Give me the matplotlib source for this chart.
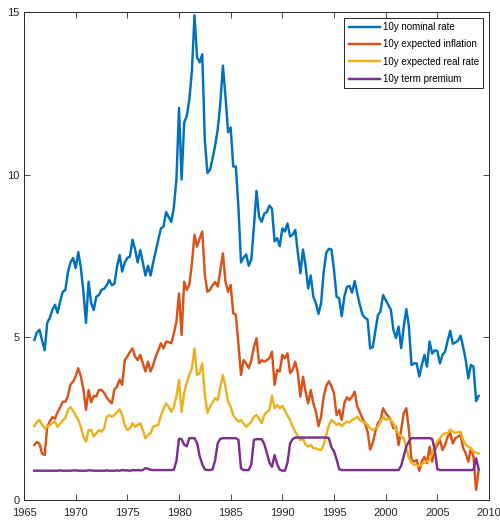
import matplotlib
matplotlib.use('Agg')
import matplotlib.pyplot as plt
import numpy as np

# quarterly observations, 1966Q1 .. 2009Q1
start_year = 1966
nominal = [4.92, 5.15, 5.23, 4.9,   4.6, 5.45, 5.6, 5.85,   6.0, 5.75, 6.1, 6.4,
           6.45, 7.0, 7.3, 7.44,    7.13, 7.62, 7.15, 6.4,  5.44, 6.71, 6.05, 5.84,
           6.25, 6.3, 6.46, 6.49,   6.6, 6.76, 6.6, 6.65,   7.17, 7.53, 7.02, 7.3,
           7.44, 7.48, 8.0, 7.7,    7.3, 7.68, 7.3, 6.9,    7.2, 6.9, 7.3, 7.65,
           8.0, 8.35, 8.4, 8.85,    8.7, 8.55, 9.0, 9.85,   12.05, 9.85, 11.6, 11.8,
           12.3, 13.2, 14.9, 13.6,  13.45, 13.7, 11.05, 10.05, 10.15, 10.5, 10.9, 11.4,
           12.2, 13.35, 12.4, 11.3, 11.45, 10.25, 10.25, 9.0, 7.3, 7.45, 7.55, 7.2,
           7.4, 8.4, 9.5, 8.7,      8.55, 8.8, 8.85, 9.05,  8.95, 7.95, 8.05, 7.8,
           8.35, 8.25, 8.5, 8.1,    8.15, 8.3, 7.6, 6.97,   7.7, 7.2, 6.5, 6.9,
           6.25, 6.05, 5.72, 6.05,  7.0, 7.6, 7.72, 7.7,    7.07, 6.25, 6.2, 5.65,
           6.25, 6.55, 6.58, 6.37,  6.73, 6.35, 6.0, 5.7,   5.6, 5.55, 4.66, 4.7,
           5.2, 5.68, 5.8, 6.3,     6.15, 6.0, 5.85, 5.23,  4.98, 5.33, 4.67, 5.33,
           5.87, 5.33, 4.15, 4.2,   4.2, 3.8, 4.15, 4.46,   4.1, 4.87, 4.5, 4.6,
           4.58, 4.2, 4.46, 4.56,   4.9, 5.2, 4.8, 4.84,    4.9, 5.05, 4.7, 4.3,
           3.74, 4.15, 4.1, 3.04,   3.2]
exp_infl = [1.69, 1.79, 1.72, 1.43, 1.38, 2.25, 2.42, 2.55, 2.5, 2.7, 2.85, 3.02,
            3.02, 3.2, 3.55, 3.64,  3.8, 4.05, 3.8, 3.4,    2.77, 3.38, 3.0, 3.2,
            3.18, 3.38, 3.38, 3.3,  3.15, 3.05, 2.97, 3.4,  3.48, 3.7, 3.54, 4.3,
            4.41, 4.55, 4.66, 4.41, 4.3, 4.46, 4.2, 3.95,   4.25, 3.95, 4.15, 4.41,
            4.6, 4.82, 4.66, 4.87,  4.85, 4.82, 5.12, 5.48, 6.35, 5.07, 6.71, 6.46,
            6.61, 7.28, 8.15, 7.79, 8.04, 8.25, 6.92, 6.4,  6.46, 6.6, 6.7, 6.56,
            7.07, 7.58, 6.71, 6.4,  6.61, 5.74, 5.69, 4.8,  3.84, 4.3, 4.2, 4.05,
            4.3, 4.7, 4.97, 4.2,    4.3, 4.25, 4.3, 4.36,   4.56, 3.54, 4.0, 3.95,
            4.46, 4.36, 4.51, 3.9,  4.0, 4.25, 3.9, 3.18,   3.79, 3.33, 2.97, 3.38,
            2.97, 2.71, 2.27, 2.56, 3.18, 3.5, 3.65, 3.5,   3.28, 2.61, 2.77, 2.46,
            2.97, 3.16, 3.07, 3.18, 3.33, 2.87, 2.7, 2.51,  2.36, 2.1, 1.55, 1.75,
            2.1, 2.36, 2.46, 2.82,  2.67, 2.58, 2.45, 2.2,  2.25, 1.69, 2.15, 2.67,
            2.82, 2.15, 1.23, 1.18, 1.23, 0.9, 1.18, 1.33,  1.13, 1.64, 1.18, 1.54,
            1.69, 1.84, 1.54, 1.69, 1.95, 2.05, 1.74, 1.9,  1.95, 2.0, 1.6, 1.43,
            1.18, 1.59, 1.33, 0.31, 0.92]
exp_real = [2.27, 2.4, 2.46, 2.31,  2.2, 2.25, 2.31, 2.36,  2.41, 2.25, 2.35, 2.45,
            2.51, 2.77, 2.85, 2.75, 2.6, 2.46, 2.25, 1.95,  1.79, 2.15, 2.15, 1.95,
            2.05, 2.15, 2.1, 2.2,   2.55, 2.61, 2.56, 2.61, 2.7, 2.79, 2.61, 2.3,
            2.15, 2.2, 2.36, 2.25,  2.31, 2.36, 2.15, 1.9,  2.0, 2.05, 2.25, 2.28,
            2.31, 2.6, 2.8, 2.97,   2.87, 2.71, 2.87, 3.18, 3.69, 2.71, 3.3, 3.6,
            3.85, 4.05, 4.66, 3.84, 3.9, 4.2, 3.23, 2.68,   2.87, 3.0, 3.13, 3.07,
            3.48, 3.84, 3.48, 3.02, 2.87, 2.6, 2.5, 2.41,   2.46, 2.35, 2.25, 2.33,
            2.4, 2.56, 2.61, 2.5,   2.36, 2.61, 2.7, 2.77,  3.2, 2.82, 2.92, 2.82,
            2.89, 2.75, 2.6, 2.46,  2.25, 2.1, 1.95, 1.84,  1.9, 1.7, 1.64, 1.69,
            1.59, 1.59, 1.55, 1.54, 1.69, 2.0, 2.3, 2.46,   2.4, 2.31, 2.36, 2.27,
            2.35, 2.41, 2.38, 2.46, 2.5, 2.56, 2.45, 2.41,  2.36, 2.31, 2.2, 2.15,
            2.2, 2.25, 2.41, 2.56,  2.46, 2.51, 2.45, 2.36, 2.15, 2.05, 1.95, 1.9,
            1.59, 1.3, 1.15, 1.08,  1.08, 1.05, 1.1, 1.15,  1.18, 1.23, 1.43, 1.65,
            1.8, 1.9, 2.0, 2.05,    2.05, 2.17, 2.1, 2.07,  2.08, 2.1, 1.84, 1.7,
            1.64, 1.59, 1.49, 1.45, 1.43]
term_prem = [0.9, 0.9, 0.9, 0.9,    0.9, 0.9, 0.9, 0.9,     0.9, 0.9, 0.91, 0.9,
             0.9, 0.9, 0.9, 0.91,   0.91, 0.9, 0.9, 0.9,    0.9, 0.91, 0.91, 0.9,
             0.9, 0.9, 0.9, 0.9,    0.91, 0.9, 0.9, 0.9,    0.91, 0.9, 0.92, 0.91,
             0.91, 0.9, 0.92, 0.91, 0.92, 0.91, 0.92, 0.98,  0.96, 0.93, 0.92, 0.92,
             0.92, 0.92, 0.92, 0.92, 0.92, 0.92, 0.93, 1.2,  1.88, 1.87, 1.7, 1.65,
             1.9, 1.9, 1.9, 1.75,   1.35, 1.1, 0.94, 0.92,  0.92, 0.94, 1.23, 1.75,
             1.88, 1.9, 1.9, 1.9,   1.9, 1.9, 1.9, 1.85,    0.97, 0.92, 0.92, 0.92,
             1.1, 1.85, 1.87, 1.87, 1.87, 1.72, 1.45, 1.15,  1.02, 1.38, 1.1, 0.93,
             0.9, 0.9, 1.15, 1.74,  1.87, 1.92, 1.92, 1.92,  1.92, 1.92, 1.92, 1.92,
             1.92, 1.92, 1.92, 1.92, 1.92, 1.92, 1.9, 1.62,  1.5, 1.25, 0.95, 0.92,
             0.92, 0.92, 0.92, 0.92, 0.92, 0.92, 0.92, 0.92,  0.92, 0.92, 0.92, 0.92,
             0.92, 0.92, 0.92, 0.92, 0.92, 0.92, 0.92, 0.92,  0.92, 0.92, 1.05, 1.35,
             1.65, 1.8, 1.9, 1.9,   1.9, 1.9, 1.9, 1.9,     1.9, 1.9, 1.88, 1.55,
             0.95, 0.92, 0.92, 0.92, 0.92, 0.92, 0.92, 0.92,  0.92, 0.92, 0.92, 0.92,
             0.92, 0.92, 0.93, 1.28, 0.95]

labels = ['10y nominal rate', '10y expected inflation',
          '10y expected real rate', '10y term premium']
colors = ['#0072BD', '#D95319', '#EDB120', '#7E2F8E']

xticks = np.arange(1965, 2011, 5)
yticks = [0, 5, 10, 15]

plt.rcParams['font.family'] = ['Liberation Sans Narrow', 'Liberation Sans', 'DejaVu Sans']

fig = plt.figure(figsize=(5.0, 5.21), dpi=100)
ax = fig.add_axes([0.048, 0.0403, 0.930, 0.9367])

t = start_year + 0.25 * np.arange(len(nominal))
for series, lab, col in zip([nominal, exp_infl, exp_real, term_prem], labels, colors):
    ax.plot(t, series, color=col, lw=1.75, label=lab)

ax.set_xlim(1965, 2010)
ax.set_ylim(0, 15)
ax.set_xticks(xticks)
ax.set_yticks(yticks)
ax.tick_params(direction='in', length=4, width=0.6, top=True, right=True,
               labelsize=8, colors='#262626')
ax.tick_params(axis='x', pad=6)
ax.tick_params(axis='y', pad=3)
for sp in ax.spines.values():
    sp.set_color('#262626')
    sp.set_linewidth(0.7)

leg = ax.legend(loc='upper right', fontsize=7, frameon=True, fancybox=False,
                edgecolor='#262626', framealpha=1, handlelength=3.2,
                handletextpad=0.3, borderpad=0.45, labelspacing=0.75,
                borderaxespad=0.6)
leg.get_frame().set_linewidth(0.7)

fig.savefig('out.png', dpi=100)
